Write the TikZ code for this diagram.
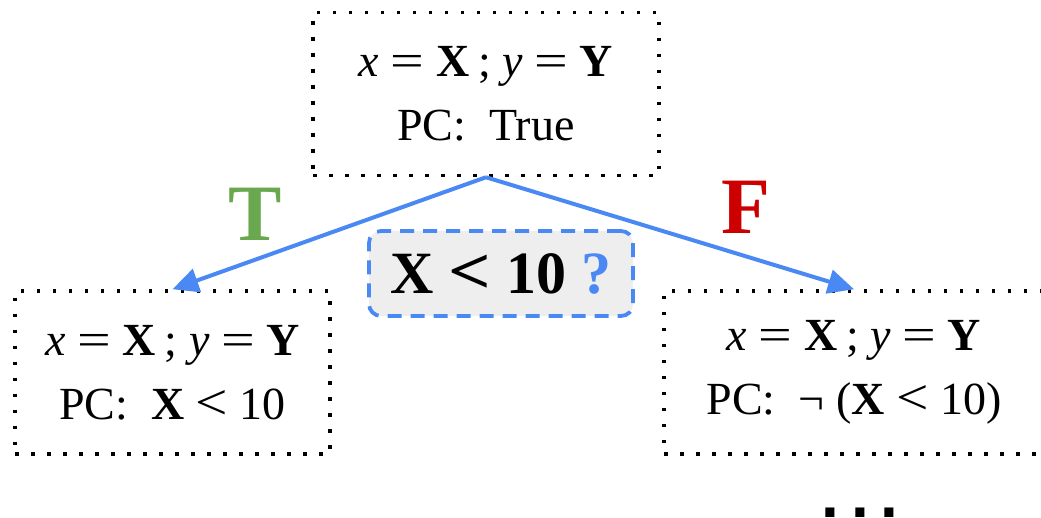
\documentclass[tikz,border=0pt]{standalone}
\usepackage{fontspec}
\usepackage{graphicx}
\setmainfont{Liberation Serif}
\newfontfamily\dotsfont{Liberation Sans}
\usetikzlibrary{arrows.meta}
\definecolor{arrowblue}{HTML}{4A89F3}
\definecolor{tgreen}{HTML}{6AA84F}
\definecolor{fred}{HTML}{CC0000}
\definecolor{qgray}{HTML}{EEEEEE}
\newcommand{\eqsym}{\scalebox{1.3}[1]{=}}
\newcommand{\ltsym}{\scalebox{1.25}[1.1]{<}}
\newcommand{\vareq}{\textit{x} \eqsym{} \textbf{X}\hspace{0.2em}; \textit{y} \eqsym{} \textbf{Y}}
\begin{document}
\begin{tikzpicture}[x=1pt,y=1pt,
  statebox/.style={draw=black, line width=3.5pt, dash pattern=on 3.5pt off 12.5pt,
    minimum height=163pt, align=center, inner sep=0pt,
    font=\fontsize{46}{64}\selectfont},
  flow/.style={draw=arrowblue, line width=4pt, -{Triangle[length=26pt,width=24pt]}},
  qbox/.style={draw=arrowblue, fill=qgray, line width=3.8pt, dash pattern=on 14pt off 9pt,
    rounded corners=12pt, minimum width=264pt, minimum height=85pt, inner sep=0pt,
    font=\fontsize{60}{60}\selectfont\bfseries},
  branch/.style={font=\fontsize{80}{80}\selectfont\bfseries, inner sep=0pt}]
\useasboundingbox (0,0) rectangle (1041,518);
\clip (0,0) rectangle (1041,518);
\node[statebox, minimum width=346pt] (top) at (486,424)
  {\vareq\\PC:\ \ True};
\node[statebox, minimum width=315pt] (left) at (172.5,145.5)
  {\vareq\\PC:\ \ \textbf{X} \ltsym{} 10};
\node[statebox, minimum width=380pt] (right) at (854,145.5)
  {\vareq\\PC:\ \ ¬ (\textbf{X} \ltsym{} 10)};
\draw[flow] (top.south) -- (left.north);
\draw[flow] (top.south) -- (right.north);
\node[qbox] (q) at (501,244.5) {X \ltsym{} 10 \textcolor{arrowblue}{?}};
\node[branch, text=tgreen] (T) at (255,304) {T};
\node[branch, text=fred] (F) at (746,311) {F};
\node[anchor=base, font=\dotsfont\fontsize{64}{64}\selectfont\bfseries] (dots) at (860,0)
  {.\hspace{12pt}.\hspace{12pt}.};
\end{tikzpicture}
\end{document}
